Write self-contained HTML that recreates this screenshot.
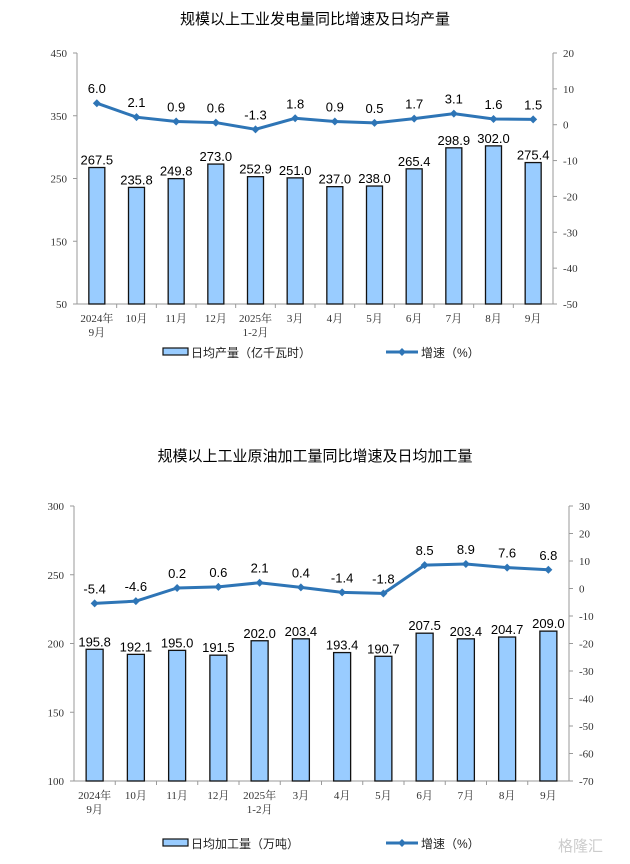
<!DOCTYPE html>
<html><head><meta charset="utf-8">
<style>
body{margin:0;background:#fff;width:630px;height:864px;overflow:hidden}
svg{display:block}
text{font-family:"Liberation Sans","Noto Sans CJK SC",sans-serif}
.t{font-family:"Liberation Serif","Noto Serif CJK SC",serif;font-size:11px;fill:#333}
</style></head>
<body>
<svg id="c" width="630" height="864"></svg>
<script>
const categories=["2024年|9月","10月","11月","12月","2025年|1-2月","3月","4月","5月","6月","7月","8月","9月"];
const powerBars=[267.5,235.8,249.8,273.0,252.9,251.0,237.0,238.0,265.4,298.9,302.0,275.4];
const powerGrowth=[6.0,2.1,0.9,0.6,-1.3,1.8,0.9,0.5,1.7,3.1,1.6,1.5];
const powerLeftTicks=[50,150,250,350,450];
const powerRightTicks=[20,10,0,-10,-20,-30,-40,-50];
const oilBars=[195.8,192.1,195.0,191.5,202.0,203.4,193.4,190.7,207.5,203.4,204.7,209.0];
const oilGrowth=[-5.4,-4.6,0.2,0.6,2.1,0.4,-1.4,-1.8,8.5,8.9,7.6,6.8];
const oilLeftTicks=[100,150,200,250,300];
const oilRightTicks=[30,20,10,0,-10,-20,-30,-40,-50,-60,-70];

const svg=document.getElementById('c');
const NS='http://www.w3.org/2000/svg';
function mk(tag,attrs,parent){const e=document.createElementNS(NS,tag);for(const k in attrs)e.setAttribute(k,attrs[k]);(parent||svg).appendChild(e);return e;}

function chart(o){
  const g=mk('g',{});
  
  
  const t=mk('text',{x:315,y:o.titleY,'text-anchor':'middle','font-size':'15',fill:'#000'},g);
  t.textContent=o.title;
  
  
  const L=o.left,R=o.right,T=o.top,B=o.bottom;
  const yL=v=>B-(v-o.lmin)/(o.lmax-o.lmin)*(B-T);
  const yR=v=>B-(v-o.rmin)/(o.rmax-o.rmin)*(B-T);
  const step=(R-L)/categories.length;
  const xC=i=>L+step*(i+0.5);
  mk('line',{x1:L,y1:T,x2:L,y2:B,stroke:'#999'},g);
  mk('line',{x1:R,y1:T,x2:R,y2:B,stroke:'#999'},g);
  mk('line',{x1:L,y1:B,x2:R,y2:B,stroke:'#999'},g);
  o.lt.forEach(v=>{
    mk('line',{x1:L-4,y1:yL(v),x2:L,y2:yL(v),stroke:'#999'},g);
    const tx=mk('text',{x:L-10,y:yL(v)+4,'text-anchor':'end',class:'t'},g);tx.textContent=v;
    
    
  });
  o.rt.forEach(v=>{
    mk('line',{x1:R,y1:yR(v),x2:R+4,y2:yR(v),stroke:'#999'},g);
    const tx=mk('text',{x:R+10,y:yR(v)+4,class:'t'},g);tx.textContent=v;
    
    
  });
  for(let i=1;i<categories.length;i++)mk('line',{x1:L+step*i,y1:B,x2:L+step*i,y2:B+4,stroke:'#999'},g);
  categories.forEach((c,i)=>{
    c.split('|').forEach((p,j)=>{
      const tx=mk('text',{x:xC(i),y:B+18+j*14,'text-anchor':'middle',class:'t'},g);tx.textContent=p;
      
      
    });
  });
  o.bars.forEach((v,i)=>{
    const r=mk('rect',{x:xC(i)-o.bw/2,y:yL(v),width:o.bw,height:B-yL(v),fill:'#99CCFF',stroke:'#111','stroke-width':1.3},g);
    
    
    const tx=mk('text',{x:xC(i),y:yL(v)-3,'text-anchor':'middle','font-size':'13',fill:'#000'},g);tx.textContent=v.toFixed(1);
    
    
  });
  const pts=o.line.map((v,i)=>xC(i)+','+yR(v)).join(' ');
  const pl=mk('polyline',{points:pts,fill:'none',stroke:'#2E75B6','stroke-width':3},g);
  
  
  o.line.forEach((v,i)=>{
    const x=xC(i),y=yR(v);
    const d=mk('polygon',{points:`${x},${y-4} ${x+4},${y} ${x},${y+4} ${x-4},${y}`,fill:'#2E75B6'},g);
    
    
    const tx=mk('text',{x:x,y:y-10,'text-anchor':'middle','font-size':'13',fill:'#000'},g);tx.textContent=v.toFixed(1);
    
    
  });
  const ly=o.legY;
  const lb=mk('rect',{x:163,y:ly-4,width:25,height:7,fill:'#99CCFF',stroke:'#111','stroke-width':1.2},g);
  
  
  const l1=mk('text',{x:191,y:ly+5,'font-size':'12',fill:'#222'},g);l1.textContent=o.legBar;
  
  
  mk('line',{x1:386,y1:ly,x2:418,y2:ly,stroke:'#2E75B6','stroke-width':3},g);
  mk('polygon',{points:`402,${ly-4} 406,${ly} 402,${ly+4} 398,${ly}`,fill:'#2E75B6'},g);
  const l2=mk('text',{x:421,y:ly+5,'font-size':'12',fill:'#222'},g);l2.textContent='增速（%）';
  
  
}
chart({name:'power-chart',title:'规模以上工业发电量同比增速及日均产量',titleY:24,left:77,right:553,top:53,bottom:304,
  lmin:50,lmax:450,rmin:-50,rmax:20,lt:powerLeftTicks,rt:powerRightTicks,bars:powerBars,line:powerGrowth,bw:16,
  legY:352,legBar:'日均产量（亿千瓦时）'});
chart({name:'oil-chart',title:'规模以上工业原油加工量同比增速及日均加工量',titleY:461,left:74,right:569,top:506,bottom:781,
  lmin:100,lmax:300,rmin:-70,rmax:30,lt:oilLeftTicks,rt:oilRightTicks,bars:oilBars,line:oilGrowth,bw:17,
  legY:843,legBar:'日均加工量（万吨）'});
const wm=mk('text',{x:558,y:851,'font-size':'15',fill:'#ccc'});wm.textContent='格隆汇';


</script>
</body></html>
